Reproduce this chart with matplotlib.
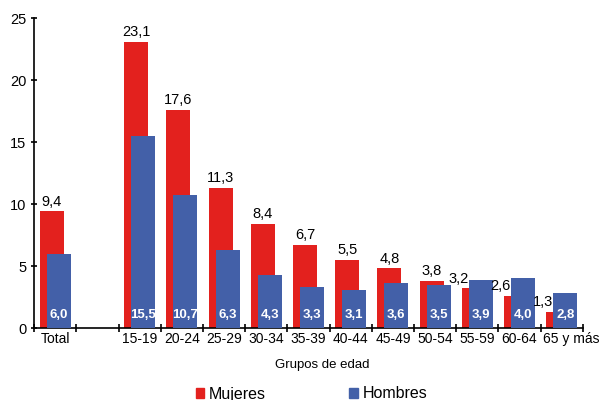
import numpy as np
import matplotlib
matplotlib.use("Agg")
import matplotlib.pyplot as plt
import matplotlib.transforms as mtransforms
from matplotlib.patches import Patch

plt.rcParams["font.family"] = ["Liberation Sans", "DejaVu Sans"]

# Data
categories = ["Total", "", "15-19", "20-24", "25-29", "30-34", "35-39",
              "40-44", "45-49", "50-54", "55-59", "60-64", "65 y más"]
mujeres = [9.4, None, 23.1, 17.6, 11.3, 8.4, 6.7, 5.5, 4.8, 3.8, 3.2, 2.6, 1.3]
hombres = [6.0, None, 15.5, 10.7, 6.3, 4.3, 3.3, 3.1, 3.6, 3.5, 3.9, 4.0, 2.8]

red = "#e3211e"
blue = "#4360a8"

fig = plt.figure(figsize=(5.99, 4.0), dpi=100)
ax = fig.add_axes([0.057, 0.18, 0.916, 0.775])

x = np.arange(len(categories))
width = 0.57
shift = 0.083


def fmt(v):
    return f"{v:.1f}".replace(".", ",")


for i, (m, h) in enumerate(zip(mujeres, hombres)):
    if m is None:
        continue
    ax.bar(x[i] - shift, m, width, color=red, zorder=2)
    ax.bar(x[i] + shift, h, width, color=blue, zorder=3)
    # women value above the red bar, nudged left when the blue bar is taller
    if h > m:
        ax.annotate(fmt(m), (x[i] - shift - 0.12, m), xytext=(0, 2),
                    textcoords="offset points", ha="right", va="bottom",
                    fontsize=10.5, zorder=4)
    else:
        ax.annotate(fmt(m), (x[i] - shift, m), xytext=(0, 2),
                    textcoords="offset points", ha="center", va="bottom",
                    fontsize=10.5, zorder=4)
    # men value inside the blue bar
    ax.text(x[i] + shift, 1.08, fmt(h), color="white", fontweight="bold",
            ha="center", va="center", fontsize=9.5, zorder=4)

ax.set_xlim(-0.5, len(categories) - 0.5)
ax.set_ylim(0, 25)
ax.set_yticks(range(0, 26, 5))
ax.set_xticks(x)
ax.set_xticklabels(categories)
ax.set_xticks(np.arange(-0.5, len(categories), 1.0), minor=True)
ax.tick_params(axis="x", which="major", length=0, labelsize=10, pad=3)
ax.tick_params(axis="x", which="minor", direction="inout", length=6, width=1.2)
ax.tick_params(axis="y", direction="inout", length=5, width=1.2, labelsize=10.5, pad=3)

# last label sits a little to the right in the original
last = ax.get_xticklabels()[-1]
last.set_transform(last.get_transform() +
                   mtransforms.ScaledTranslation(10 / 100, 0, fig.dpi_scale_trans))

for s in ["top", "right"]:
    ax.spines[s].set_visible(False)
for s in ["left", "bottom"]:
    ax.spines[s].set_linewidth(1.2)

ax.set_xlabel("Grupos de edad", fontsize=9.5, labelpad=9, x=0.525)

handles = [Patch(color=red, label="Mujeres"), Patch(color=blue, label="Hombres")]
fig.legend(handles=handles, loc="center", bbox_to_anchor=(0.52, 0.015), ncol=2,
           frameon=False, fontsize=11.5, handlelength=0.55, handleheight=0.55,
           handletextpad=0.3, columnspacing=5.2)

fig.savefig("out.png", dpi=100)
